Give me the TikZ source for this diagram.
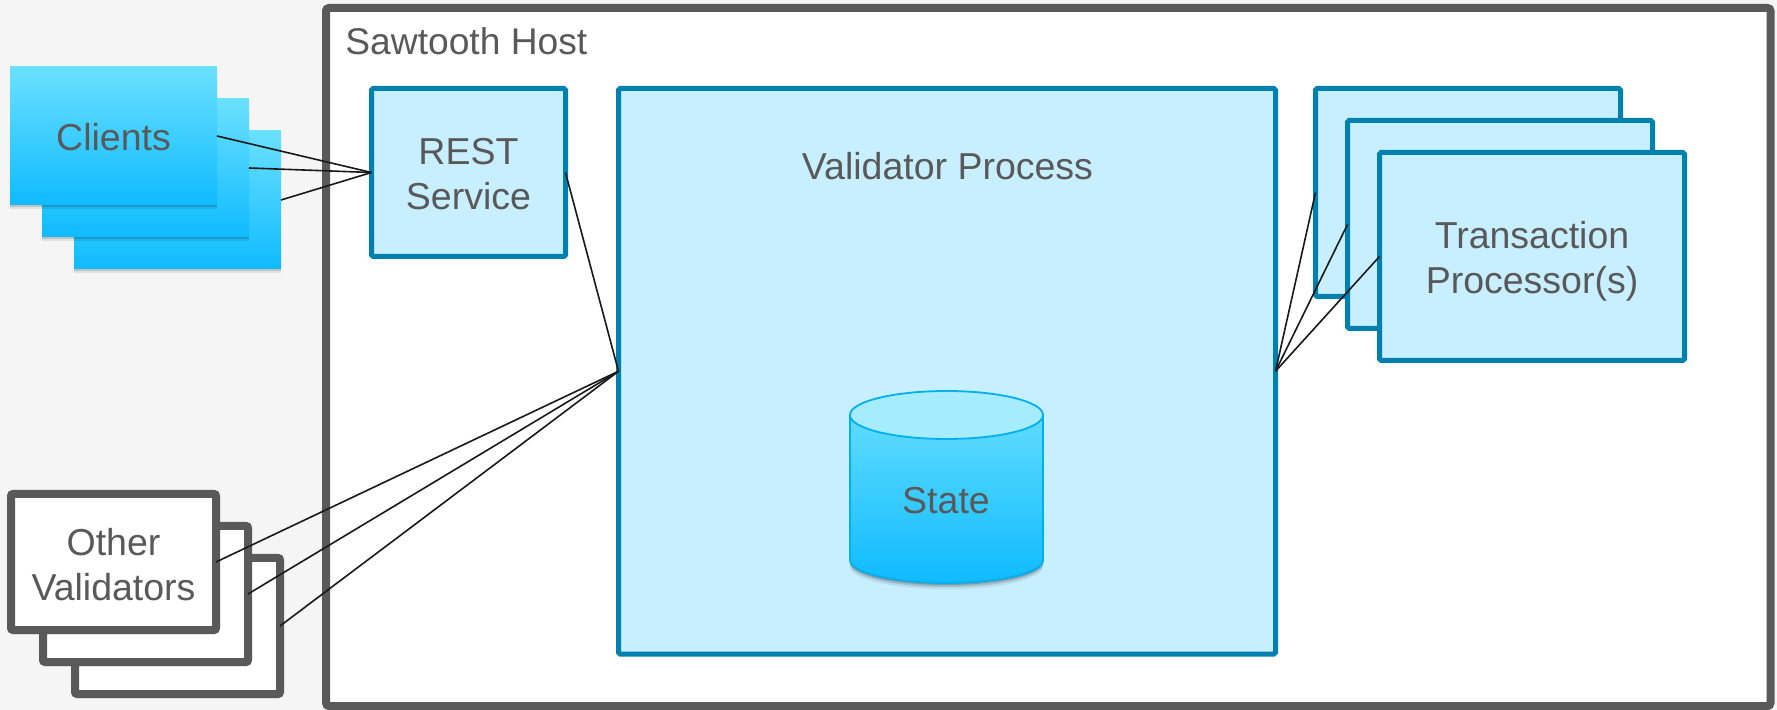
\documentclass[tikz,border=0pt]{standalone}
\usepackage{fontspec}
\setmainfont{Liberation Sans}
\usetikzlibrary{shadows}
\definecolor{pagegray}{HTML}{F5F5F5}
\definecolor{textgray}{HTML}{595959}
\definecolor{hostgray}{HTML}{595959}
\definecolor{boxblue}{HTML}{0080B0}
\definecolor{boxfill}{HTML}{C8EFFF}
\definecolor{gradtop}{HTML}{6BE0FF}
\definecolor{gradbottom}{HTML}{0FBBFF}
\definecolor{dbline}{HTML}{00B0F0}
\definecolor{dbtop}{HTML}{A6ECFF}

\begin{document}
\begin{tikzpicture}[x=0.5pt,y=-0.5pt,-,node distance=22.627pt,
    softshadow/.style={drop shadow={shadow xshift=0pt,shadow yshift=-1pt,opacity=0.14,fill=black},drop shadow={shadow xshift=0pt,shadow yshift=-2.2pt,opacity=0.08,fill=black}},
    dbshadow/.style={drop shadow={shadow xshift=0pt,shadow yshift=-1pt,opacity=0.2,fill=black},drop shadow={shadow xshift=0pt,shadow yshift=-2pt,opacity=0.14,fill=black},drop shadow={shadow xshift=0pt,shadow yshift=-3.2pt,opacity=0.08,fill=black}},
    labeltext/.style={text=textgray,font=\fontsize{18.75}{22.5}\selectfont,align=center,inner sep=0pt},
    client box/.style={rectangle,outer sep=0pt,inner sep=0pt,minimum width=103.5pt,minimum height=69pt,top color=gradtop,bottom color=gradbottom,softshadow},
    other box/.style={rectangle,draw=hostgray,fill=white,line width=4pt,rounded corners=1pt,outer sep=0pt,inner sep=0pt,minimum width=102.5pt,minimum height=68pt,softshadow},
    blue box/.style={rectangle,draw=boxblue,fill=boxfill,line width=2.5pt,rounded corners=0.8pt,outer sep=0pt,inner sep=0pt},
    proc box/.style={blue box,minimum width=152.5pt,minimum height=104pt},
    link/.style={black!90,line width=0.8pt}]

            \useasboundingbox (0,0) rectangle (1777,710);
            \fill[pagegray] (0,0) rectangle (1777,710);

            \node[rectangle, draw=hostgray, fill=white, line width=4pt, rounded corners=1.5pt, outer sep=0pt, minimum width=722.25pt, minimum height=349pt, softshadow] (host) at (1048.25,357) {};
            \node[labeltext, anchor=base west, font=\fontsize{18.6}{22.5}\selectfont] (hostlabel) at (345,55) {Sawtooth Host};

            \node[client box] (client3) at (177.5,200) {};
            \node[client box] (client2) [above left of = client3] {};
            \node[client box] (client1) [above left of = client2] {};
            \node[labeltext, yshift=-0.6pt] (clientlabel) at (client1) {Clients};

            \node[other box] (other3) at (177.5,626) {};
            \node[other box] (other2) [above left of = other3] {};
            \node[other box] (other1) [above left of = other2] {};
            \node[labeltext, yshift=-1.1pt] (otherlabel) at (other1) {Other\\Validators};

            \node[blue box, minimum width=97pt, minimum height=84pt] (rest) at (468.5,172.5) {};
            \node[labeltext, yshift=-0.8pt] (restlabel) at (rest) {REST\\Service};

            \node[blue box, minimum width=328.5pt, minimum height=282.75pt] (validator) at (947,371.25) {};
            \node[labeltext, anchor=base] (validatorlabel) at (947.5,179.5) {Validator Process};

            \node[proc box] (proc1) at (1468,192.5) {};
            \node[proc box] (proc2) [below right of = proc1] {};
            \node[proc box] (proc3) [below right of = proc2] {};
            \node[labeltext, yshift=-2.3pt] (proclabel) at (proc3) {Transaction\\Processor(s)};

            % state store
            \path[top color=gradtop, bottom color=gradbottom, dbshadow] (850,415) -- (850,560) arc[x radius=48.25pt, y radius=11.5pt, start angle=180, end angle=360] -- (1043,415) arc[x radius=48.25pt, y radius=12pt, start angle=0, end angle=180] -- cycle;
            \draw[dbline, line width=0.9pt] (850,415) -- (850,560) arc[x radius=48.25pt, y radius=11.5pt, start angle=180, end angle=360] -- (1043,415);
            \draw[dbline, fill=dbtop, line width=0.9pt] (946.5,415) ellipse[x radius=48.25pt, y radius=12pt];
            \node[labeltext, anchor=base] (state) at (946,514) {State};

            \draw[link] (client1.east) to (rest.west);
            \draw[link] (client2.east) to (rest.west);
            \draw[link] (client3.east) to (rest.west);
            \draw[link] (rest.east) to (validator.west);
            \draw[link] (other1.east) to (validator.west);
            \draw[link] (other2.east) to (validator.west);
            \draw[link] (other3.east) to (validator.west);
            \draw[link] (validator.east) to (proc1.west);
            \draw[link] (validator.east) to (proc2.west);
            \draw[link] (validator.east) to (proc3.west);

        \end{tikzpicture}
\end{document}
